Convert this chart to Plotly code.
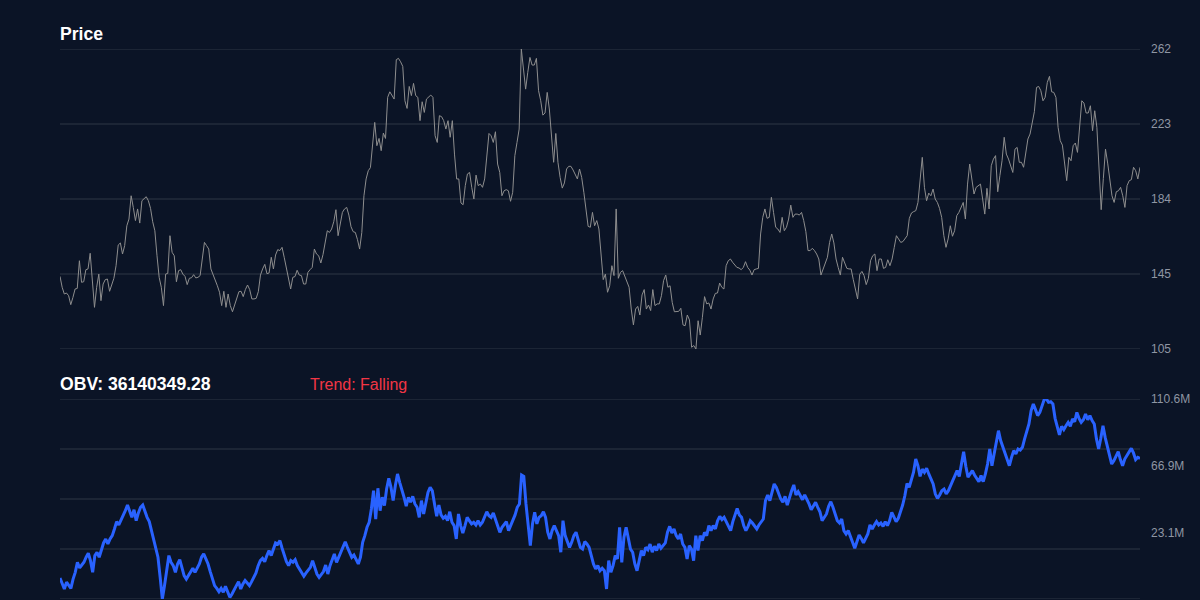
import plotly.graph_objects as go
import numpy as np

price = [
    143.0, 137.3, 133.8, 134.3, 132.9, 128.2, 132.0, 136.4, 136.7, 151.2,
    139.9, 140.2, 146.5, 146.9, 155.1, 141.6, 126.8, 137.3, 144.2, 130.3,
    139.0, 141.3, 141.6, 135.2, 139.0, 142.0, 148.6, 159.4, 160.5, 154.7,
    159.1, 169.5, 173.0, 185.2, 179.1, 172.2, 178.3, 170.9, 182.6, 183.8,
    184.7, 182.6, 178.6, 171.6, 166.9, 153.8, 142.5, 137.3, 127.7, 144.2,
    144.6, 164.3, 155.6, 153.8, 140.2, 146.0, 146.5, 144.2, 143.0, 138.7,
    142.0, 142.3, 143.9, 142.2, 142.5, 143.4, 153.8, 160.8, 159.1, 157.3,
    146.9, 144.2, 140.8, 138.1, 134.7, 127.7, 135.2, 126.8, 133.8, 127.7,
    124.5, 127.7, 131.2, 135.0, 135.2, 132.4, 136.1, 138.5, 136.1, 131.2,
    131.2, 131.5, 135.0, 143.7, 146.9, 149.3, 144.4, 144.8, 153.0, 146.9,
    154.2, 157.0, 156.5, 158.2, 153.0, 147.2, 141.3, 136.4, 142.5, 142.9,
    146.2, 143.7, 143.4, 139.0, 139.0, 145.1, 146.5, 147.7, 157.3, 154.7,
    153.8, 150.0, 154.4, 160.5, 166.9, 166.0, 167.8, 171.6, 177.9, 164.3,
    171.3, 176.5, 178.3, 179.1, 175.1, 169.0, 166.4, 166.0, 162.2, 157.3,
    166.0, 185.2, 194.0, 198.3, 199.9, 211.4, 223.6, 211.4, 215.2, 208.8,
    218.0, 215.2, 236.7, 239.6, 237.9, 235.8, 256.4, 257.1, 255.3, 252.9,
    234.9, 230.9, 242.4, 237.6, 244.0, 237.6,
    236.7, 224.5, 234.4, 228.8, 235.8, 236.7, 237.9, 236.7, 216.6, 213.1,
    227.1, 226.6, 224.5, 220.1, 224.5, 215.8, 224.5, 207.0, 194.0, 194.0,
    181.4, 180.5, 190.5, 196.6, 197.4, 189.6, 183.5, 196.0, 190.5, 191.3,
    189.6, 194.0, 207.0, 217.8, 216.6, 213.1, 218.7, 201.8, 197.4, 185.2,
    187.8, 188.4, 187.8, 182.3, 187.0, 206.2, 213.1, 220.1, 262.0, 249.8,
    241.0, 249.8, 257.6, 253.6, 253.6, 257.1, 240.2, 234.9, 227.4, 228.5,
    239.3, 230.6, 214.9, 202.7, 217.8, 202.7, 194.8, 189.2, 191.9, 199.2,
    200.6, 200.6, 198.7, 196.6, 194.0, 199.2, 194.8, 187.0, 178.3, 169.2,
    168.7, 176.5, 169.5, 172.2, 167.8, 152.1, 141.3, 144.2, 134.7, 138.1,
    148.6, 143.4, 178.3, 142.0, 145.1, 146.0, 143.4, 139.9, 137.3, 125.9,
    117.6, 125.9, 127.3, 122.8, 133.3, 136.1, 125.9, 128.0, 125.1, 136.1,
    127.7, 128.6, 128.6, 132.9, 140.8, 143.7, 137.3, 138.1, 129.4, 124.5,
    124.5, 124.7, 126.3, 117.6, 117.2, 122.8, 120.2, 105.9, 106.8, 105.0,
    119.8, 112.3, 121.6, 132.4, 128.6, 129.1, 125.9, 131.2, 134.1, 134.3,
    139.5, 137.3, 136.4, 148.6, 151.2, 152.1, 150.4, 149.0, 147.7, 147.4,
    146.5, 147.7, 150.7, 147.7, 146.3, 143.7, 146.5, 146.9, 147.2, 165.2,
    173.9, 178.3, 173.4, 173.9, 184.4, 176.5, 168.7,
    167.8, 166.0, 173.9, 166.9, 168.7, 173.0, 180.3, 173.9, 175.6, 175.6,
    175.1, 176.5, 172.2, 166.4, 156.5, 156.5, 157.7, 156.5, 154.7, 152.1,
    143.7, 147.2, 150.0, 153.0, 160.8, 165.2, 160.5, 152.1, 147.7, 143.7,
    153.0, 150.4, 147.2, 146.9, 146.9, 141.3, 136.1, 131.2, 144.1, 145.6,
    143.4, 138.7, 142.0, 151.2, 153.8, 154.7, 146.0, 152.1, 152.1, 147.2,
    147.7, 151.7, 148.6, 152.1, 158.2, 164.3, 162.6, 160.8, 161.2, 162.6,
    164.3, 173.4, 176.2, 176.9, 177.4, 181.7, 194.0, 205.3, 189.6, 182.6,
    186.6, 185.2, 188.7, 183.5, 181.7, 178.6, 173.9, 164.3, 158.2, 162.6,
    169.5, 164.0, 166.9, 174.8, 176.5, 179.1, 181.7, 173.0, 191.3, 201.8,
    194.0, 186.1, 189.6, 190.5, 191.3, 183.5, 175.6, 189.1, 178.3, 200.9,
    204.4, 206.2, 187.3, 195.7, 203.5, 215.8, 207.0, 204.4, 200.9, 197.4,
    209.6, 210.5, 202.7, 202.7, 200.1, 207.0, 214.9, 217.5, 223.6, 229.2,
    241.9, 242.4, 240.2, 234.9, 236.7, 244.5, 247.7, 239.6, 239.3, 236.7,
    221.0, 214.0, 211.7, 201.3, 193.1, 205.3, 203.5, 211.4, 212.8, 207.9,
    220.1, 234.9, 233.7, 228.5, 228.5, 232.3, 219.2, 229.7, 221.0, 198.3,
    177.9, 194.3, 209.6, 202.3, 192.2, 185.2, 181.7, 187.3, 187.8, 189.6,
    185.2, 179.1, 190.5, 193.1, 193.6, 200.1, 198.3, 194.0, 200.1,
]

# On-balance volume, in millions
obv_m = [
    -6.9, -10.8, -14.1, -9.7, -11.9, -13.7, -7.6, -3.2, 3.4, -0.3,
    1.6, 3.4, 6.7, 9.3, 4.5, -3.2, 7.8, 10.0, 6.7, 12.1,
    16.1, 18.7, 15.4, 18.7, 20.9, 25.3, 30.1, 27.9, 30.7, 34.5,
    37.3, 41.0, 36.6, 32.9, 37.9, 30.7, 35.8, 39.5, 41.0, 36.6,
    32.9, 30.1, 24.2, 17.6, 12.1, 6.7, -6.5, -20.7, -11.9, -3.2,
    7.8, 3.4, 1.2, -3.2, 2.3, 5.1, -1.0, -5.4, -7.6, -5.4,
    -3.2, -0.5, -3.2, -0.5, 2.3, 6.7, 8.9, 5.6, 2.3, -2.7,
    -7.1, -11.9, -13.7, -15.9, -13.7, -16.3, -12.4, -15.9, -19.6, -17.4,
    -14.1, -11.9, -9.3, -14.1, -10.8, -8.6, -10.2, -11.9, -9.3, -6.5,
    -3.6, 1.2, 4.5, 6.0, 3.8, 7.8, 11.1, 7.8, 12.1, 16.1,
    15.4, 17.6, 12.6, 7.8, 3.8, 1.2, 4.5, 3.4, 5.1, 1.2,
    -1.4, -3.2, -5.8, -3.6, -1.4, 0.1, 4.5, 0.1, -4.3, -6.5,
    -4.3, -2.7, 1.6, -4.3, 1.2, 5.6, 8.9, 3.4, 6.7, 10.0,
    13.2, 16.9, 13.2, 10.4, 6.7, 8.2, 5.6, 2.3, 6.7, 16.5,
    20.9, 26.4, 29.7, 38.4, 50.4, 31.8, 52.0, 37.3, 46.1, 40.6,
    51.5, 58.5, 52.6, 43.9, 53.7, 61.4, 55.9, 51.5, 46.1, 40.2,
    46.1, 42.8, 46.7, 41.7,
    39.5, 32.9, 43.9, 35.1, 42.8, 49.3, 52.6, 50.4, 41.7, 33.6, 41.0,
    34.5, 32.3, 33.6, 30.7, 36.6, 29.7, 27.5, 18.7, 35.1, 27.5, 22.6, 27.5,
    32.9, 30.7, 28.6, 29.7, 27.9, 30.7, 27.9, 29.7, 32.9, 36.6, 34.0, 32.9,
    35.8, 31.8, 27.5, 23.1, 26.4, 28.6, 30.1, 24.2, 27.5, 30.1, 34.5, 39.5,
    41.7, 60.7, 59.8, 41.7, 25.3, 14.3, 28.6, 36.2, 28.6, 32.9, 34.0, 36.6,
    32.9, 23.1, 18.7, 24.2, 27.5, 24.2, 20.9, 10.0, 30.7, 20.9, 17.6, 13.2,
    16.5, 20.9, 23.1,
    17.6, 13.2, 12.1, 17.0, 15.4, 13.2, 7.8, 2.3, -1.0, 1.2, -2.1, -0.5, -2.1,
    -14.1, 4.5, -3.2, 1.2, 7.8, 5.6, 26.4, 3.4, 19.8, 26.4, 19.8, 12.1, 10.0,
    2.3, -2.1, 5.6, 11.1, 7.8, 13.2, 11.7, 15.4, 10.0, 13.9, 11.1, 15.4, 12.6, 14.8, 16.1,
    23.1, 27.0, 22.6, 25.3, 20.9,
    18.7, 22.0, 15.4, 13.2, 5.6, 14.3, 12.1, 4.5, 20.9, 11.1, 20.9, 17.6, 23.1,
    20.9, 27.5, 24.2, 27.5, 25.3, 30.7, 33.6, 31.4, 32.9, 30.1, 27.5, 24.2,
    30.1, 35.1, 38.8, 34.5, 32.9,
    27.5, 24.2, 27.0, 30.7, 29.2, 27.5,
    25.3, 27.9, 29.7, 31.8,
    43.9, 47.6, 43.9, 50.4, 54.8, 52.6, 48.3, 45.0,
    42.8, 46.7, 41.0, 46.1, 50.4, 54.2, 47.6, 49.8, 46.7, 44.5, 47.6, 45.0,
    41.7, 37.9, 40.6, 42.8, 39.5, 36.6,
    30.7, 32.9, 35.1,
    40.2, 43.2, 39.5, 35.1, 30.7, 29.2, 31.8,
    24.2, 22.0, 24.2, 19.8, 16.5, 12.6, 17.6, 21.3, 19.1, 16.1, 19.1, 22.0,
    27.9, 25.3, 27.9, 30.1, 27.9, 29.2, 27.0, 30.1, 27.5, 30.7, 36.2, 32.9,
    30.1, 32.3, 36.2, 41.0, 47.1,
    55.2, 52.6, 57.0, 62.5, 71.2, 66.8, 59.8, 64.6, 62.5, 65.1, 61.4, 58.1, 54.8,
    48.3, 45.4, 47.6, 50.4, 51.5, 48.3, 50.4, 54.2, 57.0, 60.3, 63.6, 59.8,
    66.8, 76.0, 66.4, 59.2, 61.4, 63.6, 60.7, 58.5, 56.3, 60.3, 56.3, 61.4,
    67.9, 77.8, 66.8, 74.5, 82.2, 89.8, 83.3, 78.9, 75.2, 71.2, 66.8, 72.3,
    76.7, 74.5, 77.8, 77.1, 78.9, 84.4, 89.2, 94.2,
    103.0, 107.3, 103.6, 99.7, 101.8, 106.2, 110.2, 110.6, 108.4, 108.8, 107.3,
    97.9, 93.1, 87.0, 92.7, 90.5, 93.1, 95.3, 92.7, 97.5, 95.7, 101.8, 97.9,
    95.3, 97.0, 100.8, 97.0, 99.7, 96.4, 94.2, 84.4, 77.8, 84.8, 93.1, 85.4,
    80.0, 74.5, 67.9, 70.1, 73.0, 76.0, 70.8, 66.8, 71.2, 73.8, 76.0, 78.2,
    75.2, 70.8, 72.3, 71.6,
]

price_tick_labels = ["105", "145", "184", "223", "262"]
obv_tick_labels = ["-20.7M", "23.1M", "66.9M", "110.6M"]
obv_title = "OBV: 36140349.28"
trend_text = "Trend: Falling"
price_title = "Price"

BG = "#0b1426"
GRID = "#1c2535"
TICK = "#8f96a3"
FONT = "Liberation Sans, Arial, sans-serif"

pmin, pmax = min(price), max(price)
omin, omax = min(obv_m), max(obv_m)
price_ticks = list(np.linspace(pmin, pmax, len(price_tick_labels)))
obv_ticks = list(np.linspace(omin, omax, len(obv_tick_labels)))
price_grid = list(np.linspace(pmin, pmax, 5))
obv_grid = list(np.linspace(omin, omax, 5))

fig = go.Figure()
fig.add_trace(go.Scatter(
    x=list(range(len(price))), y=price, mode="lines",
    line=dict(color="#8e8e8e", width=1), xaxis="x", yaxis="y",
    showlegend=False, hoverinfo="skip"))
fig.add_trace(go.Scatter(
    x=list(range(len(obv_m))), y=obv_m, mode="lines",
    line=dict(color="#2962ff", width=3), xaxis="x2", yaxis="y2",
    showlegend=False, hoverinfo="skip"))

shapes = []
for v in price_grid:
    shapes.append(dict(type="line", xref="x domain", yref="y", x0=0, x1=1,
                       y0=v, y1=v, line=dict(color=GRID, width=2), layer="below"))
for v in obv_grid:
    shapes.append(dict(type="line", xref="x2 domain", yref="y2", x0=0, x1=1,
                       y0=v, y1=v, line=dict(color=GRID, width=2), layer="below"))

W, H = 1200, 600
left, right = 60 / W, 1140 / W
top_dom = [1 - 349 / H, 1 - 49 / H]
bot_dom = [1 - 599 / H, 1 - 399 / H]

yax_common = dict(side="right", showgrid=False, zeroline=False, showline=False,
                  ticks="", tickfont=dict(family=FONT, size=12, color=TICK),
                  ticklabelstandoff=10, automargin=False, fixedrange=True)

fig.update_layout(
    width=W, height=H,
    paper_bgcolor=BG, plot_bgcolor=BG,
    margin=dict(l=0, r=0, t=0, b=0),
    xaxis=dict(domain=[left, right], range=[0, len(price) - 1], visible=False,
               anchor="y", fixedrange=True),
    yaxis=dict(domain=top_dom, range=[pmin, pmax], tickvals=price_ticks,
               ticktext=price_tick_labels, anchor="x", **yax_common),
    xaxis2=dict(domain=[left, right], range=[0, len(obv_m) - 1], visible=False,
                anchor="y2", fixedrange=True),
    yaxis2=dict(domain=bot_dom, range=[omin, omax], tickvals=obv_ticks,
                ticktext=obv_tick_labels, anchor="x2", **yax_common),
    shapes=shapes,
    annotations=[
        dict(text="<b>" + price_title + "</b>", xref="paper", yref="paper",
             x=58 / W, y=1 - 34 / H, xanchor="left", yanchor="middle", showarrow=False,
             font=dict(family=FONT, size=17.6, color="#ffffff")),
        dict(text="<b>" + obv_title + "</b>", xref="paper", yref="paper",
             x=58 / W, y=1 - 384 / H, xanchor="left", yanchor="middle", showarrow=False,
             font=dict(family=FONT, size=17.6, color="#ffffff")),
        dict(text=trend_text, xref="paper", yref="paper",
             x=308 / W, y=1 - 384 / H, xanchor="left", yanchor="middle", showarrow=False,
             font=dict(family=FONT, size=16, color="#f23645")),
    ],
)

fig.write_html(
    "out.html",
    config={"displayModeBar": False, "staticPlot": True},
    post_script="document.body.style.margin='0';document.body.style.overflow='hidden';"
                "document.body.style.background='" + BG + "';",
)
